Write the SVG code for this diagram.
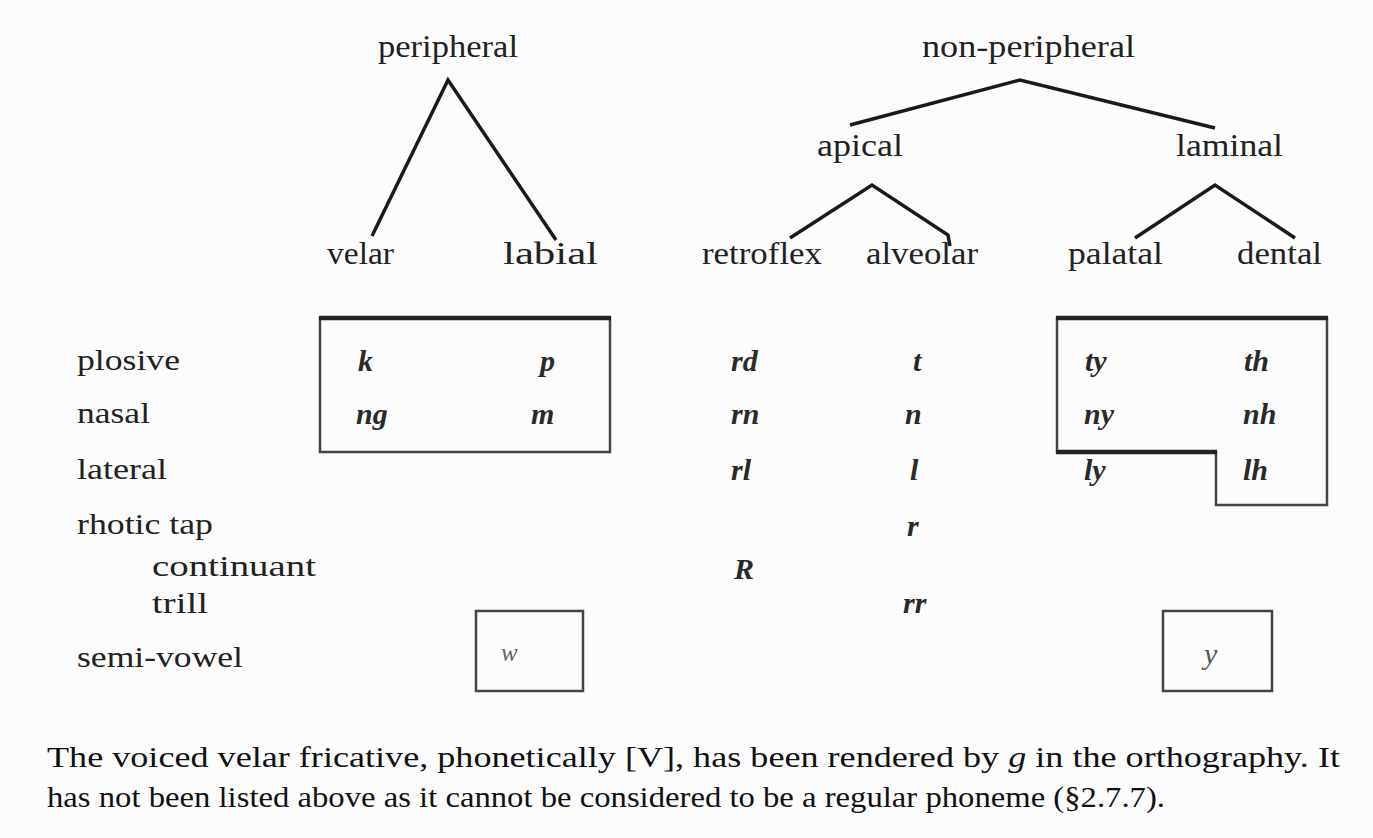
<svg xmlns="http://www.w3.org/2000/svg" width="1373" height="838" viewBox="0 0 1373 838">
<style>
text{font-family:"Liberation Serif","Times New Roman",serif;fill:#222;}
.h{font-size:32px;}
.r{font-size:30px;}
.c{font-size:30px;font-style:italic;font-weight:bold;fill:#2a2a2a;}
.cap{font-size:30px;fill:#111;}
.ln{stroke:#1a1a1a;stroke-width:3.5;fill:none;stroke-linejoin:miter;}
.bx{stroke:#444;stroke-width:2.5;fill:none;}
.tk{stroke:#222;stroke-width:4.5;fill:none;}
</style>
<rect width="1373" height="838" fill="#fcfcfc"/>
<g id="connectors">
<polyline class="ln" points="372,236 448,80 556,240"/>
<polyline class="ln" points="850,125 1020,80 1215,128"/>
<polyline class="ln" points="790,238 872,185 948,235 950,246"/>
<polyline class="ln" points="1135,238 1215,185 1295,238"/>
</g>
<g id="node-peripheral"><text class="h" x="378" y="57" textLength="140" lengthAdjust="spacingAndGlyphs">peripheral</text></g>
<g id="node-non-peripheral"><text class="h" x="922" y="57" textLength="213" lengthAdjust="spacingAndGlyphs">non-peripheral</text></g>
<g id="node-apical"><text class="h" x="817" y="156" textLength="86" lengthAdjust="spacingAndGlyphs">apical</text></g>
<g id="node-laminal"><text class="h" x="1176" y="156" textLength="107" lengthAdjust="spacingAndGlyphs">laminal</text></g>
<g id="node-velar"><text class="h" x="327" y="264" textLength="67" lengthAdjust="spacingAndGlyphs">velar</text></g>
<g id="node-labial"><text class="h" x="503" y="264" textLength="95" lengthAdjust="spacingAndGlyphs">labial</text></g>
<g id="node-retroflex"><text class="h" x="702" y="264" textLength="120" lengthAdjust="spacingAndGlyphs">retroflex</text></g>
<g id="node-alveolar"><text class="h" x="866" y="264" textLength="112" lengthAdjust="spacingAndGlyphs">alveolar</text></g>
<g id="node-palatal"><text class="h" x="1068" y="264" textLength="95" lengthAdjust="spacingAndGlyphs">palatal</text></g>
<g id="node-dental"><text class="h" x="1237" y="264" textLength="85" lengthAdjust="spacingAndGlyphs">dental</text></g>

<g id="row-labels">
<text class="r" x="77" y="370" textLength="103" lengthAdjust="spacingAndGlyphs">plosive</text>
<text class="r" x="77" y="423" textLength="73" lengthAdjust="spacingAndGlyphs">nasal</text>
<text class="r" x="77" y="479" textLength="90" lengthAdjust="spacingAndGlyphs">lateral</text>
<text class="r" x="77" y="534" textLength="136" lengthAdjust="spacingAndGlyphs">rhotic tap</text>
<text class="r" x="152" y="576" textLength="164" lengthAdjust="spacingAndGlyphs">continuant</text>
<text class="r" x="152" y="613" textLength="56" lengthAdjust="spacingAndGlyphs">trill</text>
<text class="r" x="77" y="667" textLength="166" lengthAdjust="spacingAndGlyphs">semi-vowel</text>
</g>

<g id="box-peripheral">
<rect class="bx" x="320" y="318" width="290" height="134"/>
<line class="tk" x1="319" y1="318" x2="611" y2="318"/>
</g>
<g id="box-laminal">
<polygon class="bx" points="1057,318 1327,318 1327,505 1216,505 1216,452 1057,452"/>
<line class="tk" x1="1056" y1="318" x2="1328" y2="318"/>
<line class="tk" x1="1056" y1="452" x2="1217" y2="452"/>
</g>
<g id="box-w"><rect class="bx" x="476" y="611" width="107" height="80"/></g>
<g id="box-y"><rect class="bx" x="1163" y="611" width="109" height="80"/></g>

<g id="cells">
<text class="c" x="358" y="371">k</text>
<text class="c" x="540" y="371">p</text>
<text class="c" x="356" y="424">ng</text>
<text class="c" x="531" y="424">m</text>
<text class="c" x="731" y="371">rd</text>
<text class="c" x="913" y="371">t</text>
<text class="c" x="731" y="424">rn</text>
<text class="c" x="905" y="424">n</text>
<text class="c" x="731" y="480">rl</text>
<text class="c" x="910" y="480">l</text>
<text class="c" x="907" y="536">r</text>
<text class="c" x="734" y="579">R</text>
<text class="c" x="903" y="613">rr</text>
<text class="c" x="1085" y="371">ty</text>
<text class="c" x="1244" y="371">th</text>
<text class="c" x="1084" y="424">ny</text>
<text class="c" x="1243" y="424">nh</text>
<text class="c" x="1084" y="480">ly</text>
<text class="c" x="1243" y="480">lh</text>
<text class="c" x="501" y="661" style="font-weight:normal;fill:#666;font-size:25px">w</text>
<text class="c" x="1204" y="664" style="font-weight:normal;fill:#555;">y</text>
</g>

<g id="caption">
<text class="cap" x="47" y="767" textLength="1293" lengthAdjust="spacingAndGlyphs">The voiced velar fricative, phonetically [V], has been rendered by <tspan font-style="italic">g</tspan> in the orthography. It</text>
<text class="cap" x="47" y="807" textLength="1118" lengthAdjust="spacingAndGlyphs">has not been listed above as it cannot be considered to be a regular phoneme (§2.7.7).</text>
</g>
</svg>
